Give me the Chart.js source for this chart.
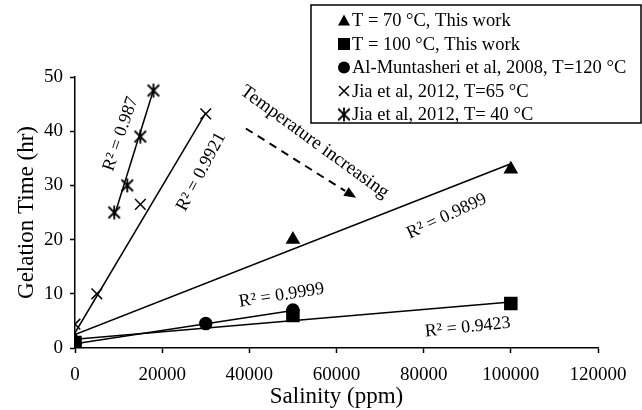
<!DOCTYPE html>
<html>
<head>
<meta charset="utf-8">
<script src="https://cdn.jsdelivr.net/npm/chart.js@4.4.1/dist/chart.umd.min.js"></script>
<style>
  html, body { margin: 0; padding: 0; background: #fff; }
  #wrap { width: 642px; height: 410px; }
</style>
</head>
<body>
<div id="wrap"><canvas id="c" width="642" height="410"></canvas></div>
<script>
// measured points (salinity ppm / gelation time hr)
const t70X = [0, 50000, 100000];
const t70Y = [1.5, 20, 33];
const t100X = [0, 50000, 100000];
const t100Y = [1, 6, 8.2];
const almX = [0, 30000, 50000];
const almY = [0.7, 4.5, 7];
const jia65X = [0, 5000, 15000, 30000];
const jia65Y = [4.4, 10, 26.5, 43.2];
const jia40X = [9000, 12000, 15000, 18000];
const jia40Y = [25, 30, 39, 47.5];

// linear trend lines, end points
const t70FitX = [0, 100000];
const t70FitY = [2.5, 34];
const t100FitX = [0, 100000];
const t100FitY = [1.6, 8.5];
const almFitX = [0, 50000];
const almFitY = [0.8, 6.9];
const jia65FitX = [0, 30000];
const jia65FitY = [2.8, 43.4];
const jia40FitX = [9000, 18000];
const jia40FitY = [24.3, 47.6];

const legendLabels = [
  'T = 70 °C, This work',
  'T = 100 °C, This work',
  'Al-Muntasheri et al, 2008, T=120 °C',
  'Jia et al, 2012, T=65 °C',
  'Jia et al, 2012, T= 40 °C'
];

const xTickLabels = ['0', '20000', '40000', '60000', '80000', '100000', '120000'];
const yTickLabels = ['0', '10', '20', '30', '40', '50'];

// annotations in data units
const notes = [
  { text: 'R² = 0.987', x: 10500, y: 39.5, angle: -71 },
  { text: 'R² = 0.9921', x: 29000, y: 32.5, angle: -62 },
  { text: 'Temperature increasing', x: 55000, y: 38.0, angle: 36 },
  { text: 'R² = 0.9899', x: 85300, y: 24.3, angle: -25 },
  { text: 'R² = 0.9999', x: 47400, y: 9.7, angle: -9 },
  { text: 'R² = 0.9423', x: 90100, y: 3.8, angle: -6 }
];
const arrowFrom = { x: 39200, y: 40.5 };
const arrowTo = { x: 64500, y: 27.7 };

const FONT = "'Liberation Serif', 'Times New Roman', serif";

function pts(xs, ys) {
  return xs.map((x, i) => ({ x, y: ys[i] }));
}

// asterisk marker: x with a vertical bar
function makeAsterisk(size) {
  const cv = document.createElement('canvas');
  cv.width = size; cv.height = size;
  const g = cv.getContext('2d');
  g.strokeStyle = '#000';
  g.lineWidth = 1.8;
  const m = size / 2, d = size * 0.36;
  g.beginPath();
  g.moveTo(m - d, m - d); g.lineTo(m + d, m + d);
  g.moveTo(m + d, m - d); g.lineTo(m - d, m + d);
  g.moveTo(m, 1); g.lineTo(m, size - 1);
  g.stroke();
  return cv;
}
const asterisk = makeAsterisk(16);

function fitLine(xs, ys) {
  return {
    data: pts(xs, ys), showLine: true, pointRadius: 0, pointHoverRadius: 0,
    borderColor: '#000', borderWidth: 1.5, fill: false, order: 2
  };
}

function marks(xs, ys, style, r) {
  return {
    data: pts(xs, ys), showLine: false, pointStyle: style, pointRadius: r,
    pointBackgroundColor: '#000', pointBorderColor: '#000', pointBorderWidth: 1.5, order: 1
  };
}

const legendPlugin = {
  id: 'boxLegend',
  afterDraw(chart) {
    const ctx = chart.ctx;
    const left = 311, top = 5, w = 330, h = 118;
    ctx.save();
    ctx.fillStyle = '#fff';
    ctx.fillRect(left, top, w, h);
    ctx.strokeStyle = '#000';
    ctx.lineWidth = 1.5;
    ctx.strokeRect(left, top, w, h);
    ctx.font = '18.5px ' + FONT;
    ctx.fillStyle = '#000';
    ctx.textBaseline = 'middle';
    const styles = ['triangle', 'rect', 'circle', 'crossRot', 'asterisk'];
    legendLabels.forEach((lab, i) => {
      const cy = 20.5 + i * 23.5;
      const mx = 344;
      ctx.beginPath();
      ctx.lineWidth = 1.5;
      if (styles[i] === 'triangle') {
        ctx.moveTo(mx, cy - 6); ctx.lineTo(mx + 6, cy + 5); ctx.lineTo(mx - 6, cy + 5); ctx.closePath(); ctx.fill();
      } else if (styles[i] === 'rect') {
        ctx.fillRect(mx - 6, cy - 6, 12, 12);
      } else if (styles[i] === 'circle') {
        ctx.arc(mx, cy, 6, 0, Math.PI * 2); ctx.fill();
      } else if (styles[i] === 'crossRot') {
        ctx.moveTo(mx - 5, cy - 5); ctx.lineTo(mx + 5, cy + 5);
        ctx.moveTo(mx + 5, cy - 5); ctx.lineTo(mx - 5, cy + 5); ctx.stroke();
      } else {
        ctx.drawImage(asterisk, mx - 8, cy - 8);
      }
      ctx.fillText(lab, 352, cy + 1);
    });
    ctx.restore();
  }
};

const notePlugin = {
  id: 'notes',
  afterDatasetsDraw(chart) {
    const ctx = chart.ctx;
    const xs = chart.scales.x, ys = chart.scales.y;
    ctx.save();
    ctx.fillStyle = '#000';
    ctx.font = '18px ' + FONT;
    ctx.textAlign = 'center';
    ctx.textBaseline = 'middle';
    notes.forEach(n => {
      ctx.save();
      ctx.translate(xs.getPixelForValue(n.x), ys.getPixelForValue(n.y));
      ctx.rotate(n.angle * Math.PI / 180);
      if (n.text.startsWith('Temp')) ctx.font = '19px ' + FONT;
      ctx.fillText(n.text, 0, 0);
      ctx.restore();
    });
    // dashed arrow
    const x1 = xs.getPixelForValue(arrowFrom.x), y1 = ys.getPixelForValue(arrowFrom.y);
    const x2 = xs.getPixelForValue(arrowTo.x), y2 = ys.getPixelForValue(arrowTo.y);
    const ang = Math.atan2(y2 - y1, x2 - x1);
    const head = 13;
    ctx.strokeStyle = '#000';
    ctx.lineWidth = 2;
    ctx.setLineDash([8, 6]);
    ctx.beginPath();
    ctx.moveTo(x1, y1);
    ctx.lineTo(x2 - Math.cos(ang) * head, y2 - Math.sin(ang) * head);
    ctx.stroke();
    ctx.setLineDash([]);
    ctx.beginPath();
    ctx.moveTo(x2, y2);
    ctx.lineTo(x2 - Math.cos(ang - 0.4) * head, y2 - Math.sin(ang - 0.4) * head);
    ctx.lineTo(x2 - Math.cos(ang + 0.4) * head, y2 - Math.sin(ang + 0.4) * head);
    ctx.closePath();
    ctx.fill();
    ctx.restore();
  }
};

new Chart(document.getElementById('c'), {
  type: 'scatter',
  data: {
    datasets: [
      fitLine(t70FitX, t70FitY),
      fitLine(t100FitX, t100FitY),
      fitLine(almFitX, almFitY),
      fitLine(jia65FitX, jia65FitY),
      fitLine(jia40FitX, jia40FitY),
      marks(t70X, t70Y, 'triangle', 7),
      marks(almX, almY, 'circle', 6),
      marks(t100X, t100Y, 'rect', 8.5),
      marks(jia65X, jia65Y, 'crossRot', 7.5),
      marks(jia40X, jia40Y, asterisk, 8)
    ]
  },
  options: {
    responsive: false,
    animation: false,
    events: [],
    layout: { padding: { left: 0, top: 77, right: 44, bottom: 0 } },
    plugins: { legend: { display: false }, tooltip: { enabled: false } },
    scales: {
      x: {
        type: 'linear', min: 0, max: 120000,
        afterFit(s) { s.height = 62; },
        afterBuildTicks(s) { s.ticks = xTickLabels.map(v => ({ value: Number(v) })); },
        border: { color: '#000', width: 1.5 },
        grid: { drawOnChartArea: false, color: '#000', tickLength: 5, tickWidth: 1.5 },
        ticks: {
          color: '#000', font: { family: FONT, size: 19 }, padding: 11, maxRotation: 0,
          callback: (v, i) => xTickLabels[i]
        },
        title: {
          display: true, text: 'Salinity (ppm)', color: '#000',
          font: { family: FONT, size: 23 }, padding: { top: 0, bottom: -1 }
        }
      },
      y: {
        type: 'linear', min: 0, max: 50,
        afterFit(s) { s.width = 75; },
        afterBuildTicks(s) { s.ticks = yTickLabels.map(v => ({ value: Number(v) })); },
        border: { color: '#000', width: 1.5 },
        grid: { drawOnChartArea: false, color: '#000', tickLength: 5, tickWidth: 1.5 },
        ticks: {
          color: '#000', font: { family: FONT, size: 19 }, padding: 7,
          callback: (v, i) => yTickLabels[i]
        },
        title: {
          display: true, text: 'Gelation Time (hr)', color: '#000',
          font: { family: FONT, size: 23 }, padding: { top: 13, bottom: 0 }
        }
      }
    }
  },
  plugins: [notePlugin, legendPlugin]
});
</script>
</body>
</html>
